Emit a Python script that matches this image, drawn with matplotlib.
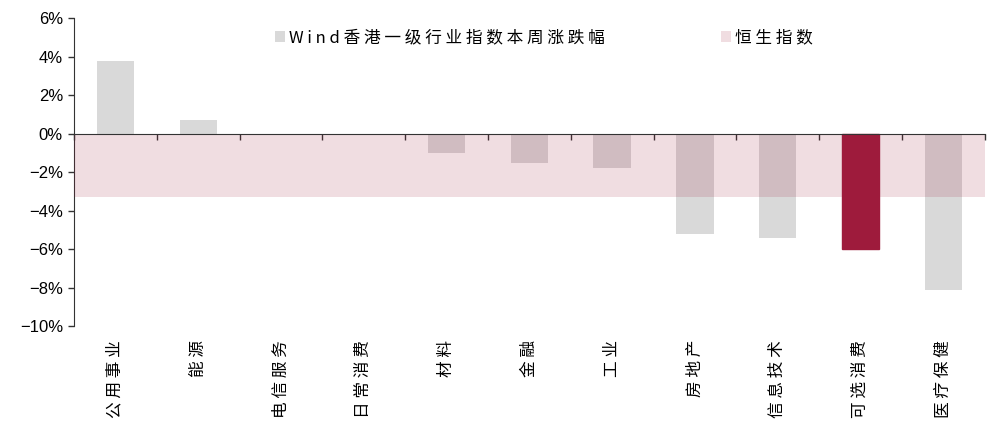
import matplotlib
matplotlib.use("Agg")
import matplotlib.pyplot as plt
from matplotlib.patches import Patch
from matplotlib.ticker import FuncFormatter, FixedLocator
import numpy as np

plt.rcParams['font.family'] = ['Noto Sans CJK SC', 'DejaVu Sans']

categories = ['公用事业', '能源', '电信服务', '日常消费', '材料', '金融', '工业',
              '房地产', '信息技术', '可选消费', '医疗保健']
weekly_change = [3.8, 0.7, 0.0, -0.05, -1.0, -1.5, -1.8, -5.2, -5.4, -6.0, -8.1]
hsi_change = -3.3
highlight = '可选消费'
yticks = [6, 4, 2, 0, -2, -4, -6, -8, -10]
legend_labels = ['Wind香港一级行业指数本周涨跌幅', '恒生指数']


def spaced(s):
    return ' '.join(list(s))


fig = plt.figure(figsize=(9.92, 4.23), dpi=100)
ax = fig.add_axes([0.0746, 0.229, 0.918, 0.728])

x = np.arange(len(categories))
bars = ax.bar(x, weekly_change, width=0.45, color='#D9D9D9', zorder=2)
ax.axhspan(hsi_change, 0, color='#9E1B3C', alpha=0.15, lw=0, zorder=3)
for b, c in zip(bars, categories):
    if c == highlight:
        b.set_color('#9E1B3C')
        b.set_zorder(4)

ax.set_xlim(-0.5, len(categories) - 0.5)
ax.set_ylim(-10, 6)
ax.set_yticks(yticks)
ax.yaxis.set_major_formatter(FuncFormatter(lambda v, p: f"{int(v)}%".replace('-', '\u2212')))
for lab in ax.get_yticklabels():
    lab.set_fontfamily(['Liberation Sans', 'DejaVu Sans'])
ax.tick_params(axis='y', labelsize=12, length=4, width=1, color='#333333', pad=4)

ax.spines['top'].set_visible(False)
ax.spines['right'].set_visible(False)
ax.spines['left'].set_color('#333333')
ax.spines['bottom'].set_color('#333333')
ax.spines['bottom'].set_position(('data', 0))
ax.spines['bottom'].set_zorder(5)

ax.set_xticks(x)
ax.set_xticklabels([])
ax.tick_params(axis='x', length=0)
ax.xaxis.set_minor_locator(FixedLocator(np.arange(-0.5, len(categories), 1.0)))
ax.tick_params(axis='x', which='minor', length=4, width=1, direction='out', color='#333333')
trans = ax.get_xaxis_transform()
for xi, c in zip(x, categories):
    ax.text(xi, -0.045, spaced(c), rotation=90, ha='center', va='top', fontsize=12,
            transform=trans, color='black')

handles = [Patch(facecolor='#D9D9D9', edgecolor='none'),
           Patch(facecolor='#9E1B3C', alpha=0.15, edgecolor='none')]
ax.legend(handles, [spaced(l) for l in legend_labels], ncol=2,
          loc='upper left', bbox_to_anchor=(0.213, 0.985), frameon=False,
          fontsize=12, handlelength=0.6, handleheight=0.6, handletextpad=0.25,
          columnspacing=7.0, borderaxespad=0)

fig.savefig('out.png', dpi=100)
